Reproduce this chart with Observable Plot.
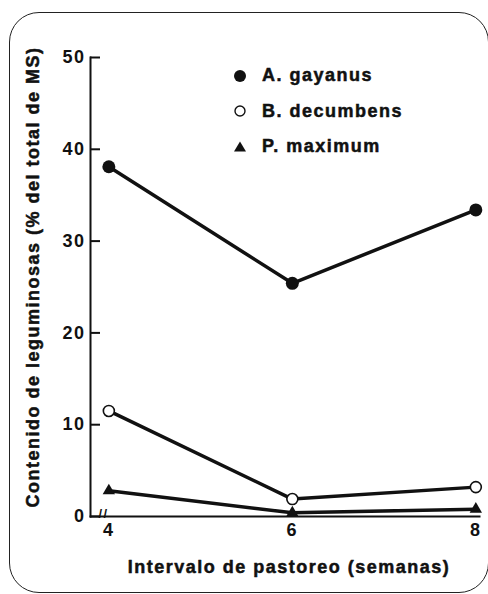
<!DOCTYPE html>
<html><head><meta charset="utf-8">
<script src="https://cdn.jsdelivr.net/npm/d3@7"></script>
<script src="https://cdn.jsdelivr.net/npm/@observablehq/plot@0.6"></script>
<style>
body{margin:0;background:#fff;}
#wrap{position:relative;width:488px;height:594px;overflow:hidden;font-family:"Liberation Sans",Arial,sans-serif;font-weight:bold;color:#111;}
#wrap svg{display:block;}
#border{position:absolute;left:9px;top:12px;width:480px;height:581px;border:1.6px solid #222;border-radius:30px;box-sizing:border-box;pointer-events:none;}
#legend{position:absolute;left:232px;top:58px;}
.row{display:flex;align-items:center;height:35.5px;font-size:18px;letter-spacing:1.5px;-webkit-text-stroke:0.5px #111;}
.row svg{margin-right:14px;}
</style></head><body>
<div id="wrap"><div id="border"></div><div id="legend"></div></div>
<script>
const weeks = [4, 6, 8];
const seriesNames = ["A. gayanus", "B. decumbens", "P. maximum"];
const gayanus = [38.1, 25.4, 33.4];
const decumbens = [11.5, 1.9, 3.2];
const maximum = [2.8, 0.4, 0.8];
const yTicks = [0, 10, 20, 30, 40, 50];
const xLabel = "Intervalo de pastoreo (semanas)";
const yLabel = "Contenido de leguminosas (% del total de MS)";

const seriesValues = [gayanus, decumbens, maximum];
const data = seriesNames.flatMap((s, i) => weeks.map((w, j) => ({series: s, week: w, value: seriesValues[i][j]})));
const bySeries = s => data.filter(d => d.series === s);

const font = {fontSize: 18, fontWeight: "bold", fill: "#111", stroke: "#111", strokeWidth: 0.5};

const chart = Plot.plot({
  width: 488,
  height: 594,
  marginLeft: 90,
  marginRight: 9,
  marginTop: 57,
  marginBottom: 78,
  style: {fontFamily: '"Liberation Sans", Arial, sans-serif', letterSpacing: "1.5px", background: "transparent", color: "#111"},
  x: {domain: [3.8, 8.04]},
  y: {domain: [0, 50]},
  marks: [
    Plot.frame({anchor: "left", stroke: "#111", strokeWidth: 2}),
    Plot.frame({anchor: "bottom", stroke: "#111", strokeWidth: 2}),
    Plot.axisY({ticks: yTicks, tickSize: 10, dx: 10, tickFormat: () => "", label: null, strokeWidth: 2}),
    Plot.axisY({ticks: yTicks, tickSize: 0, tickPadding: 5, tickFormat: d => String(d), label: null, ...font}),
    Plot.axisX({ticks: weeks, tickSize: 0, tickPadding: 7, tickFormat: d => String(d), label: null, ...font}),
    Plot.text(["//"], {frameAnchor: "bottom-left", dx: 8, dy: 1, fontSize: 13, fontWeight: "bold", fill: "#111"}),
    Plot.text([yLabel], {frameAnchor: "left", textAnchor: "middle", rotate: -90, dx: -57, dy: -10, ...font}),
    Plot.text([xLabel], {frameAnchor: "bottom", textAnchor: "middle", dx: 4, dy: 56, ...font}),
    Plot.line(data, {x: "week", y: "value", z: "series", stroke: "#111", strokeWidth: 3.5}),
    Plot.dot(bySeries(seriesNames[0]), {x: "week", y: "value", r: 6.5, fill: "#111", stroke: "none"}),
    Plot.dot(bySeries(seriesNames[1]), {x: "week", y: "value", r: 5.5, fill: "#fff", stroke: "#111", strokeWidth: 1.6}),
    Plot.dot(bySeries(seriesNames[2]), {x: "week", y: "value", r: 4.6, symbol: "triangle", fill: "#111", stroke: "none"})
  ]
});
document.getElementById("wrap").insertBefore(chart, document.getElementById("border"));

// Legend
const symbols = [
  '<circle cx="8" cy="8" r="6" fill="#111"/>',
  '<circle cx="8" cy="8" r="5" fill="#fff" stroke="#111" stroke-width="1.4"/>',
  '<path d="M8,2.5 L14,12.5 L2,12.5 Z" fill="#111"/>'
];
const legend = document.getElementById("legend");
seriesNames.forEach((s, i) => {
  const row = document.createElement("div");
  row.className = "row";
  row.innerHTML = `<svg width="16" height="16" viewBox="0 0 16 16">${symbols[i]}</svg><span>${s}</span>`;
  legend.appendChild(row);
});
</script>
</body></html>
